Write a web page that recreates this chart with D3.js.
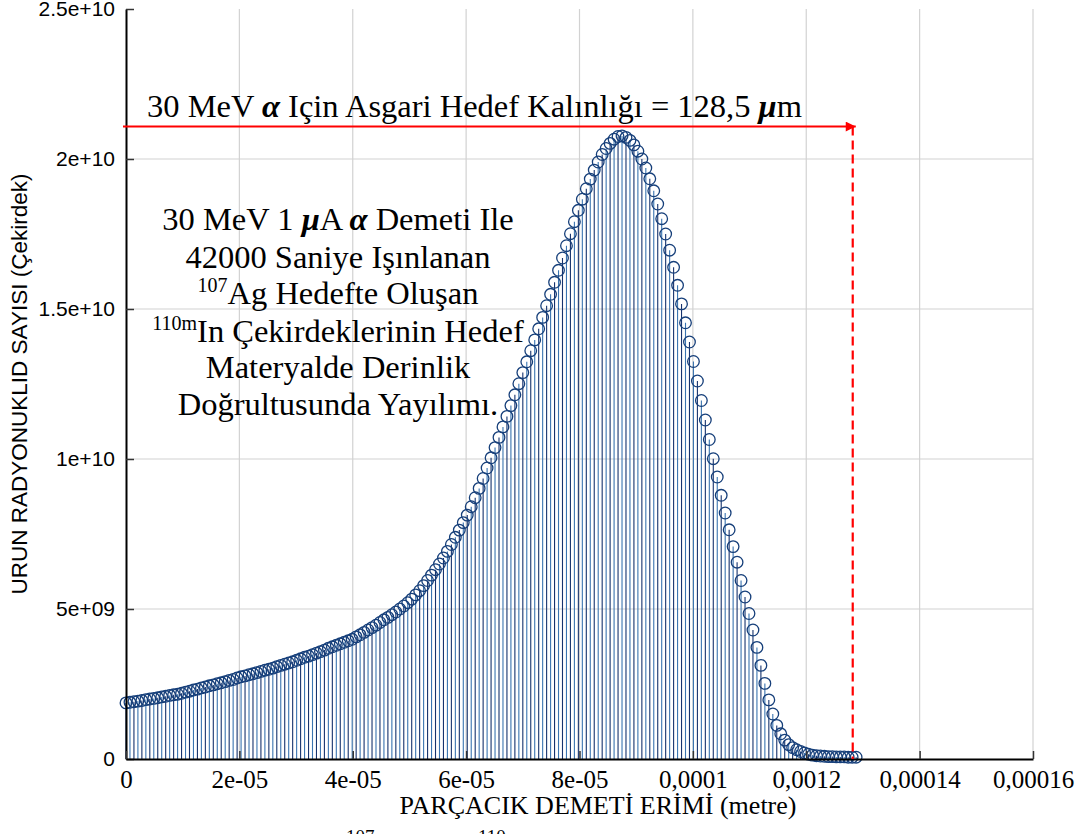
<!DOCTYPE html>
<html>
<head>
<meta charset="utf-8">
<script src="https://cdn.jsdelivr.net/npm/d3@7"></script>
<style>
  body { margin: 0; background: #fff; overflow: hidden; }
  text { fill: #000; }
</style>
</head>
<body>
<svg id="chart" width="1079" height="834"></svg>
<script>
// depth step between samples (metre)
var depthStep = 0.7e-6;
// nuclide count per sample, in units of 1e9
var counts = [
  1.87, 1.89, 1.91, 1.93, 1.95, 1.98, 2.00, 2.02, 2.04, 2.07,
  2.09, 2.12, 2.14, 2.16, 2.19, 2.23, 2.26, 2.30, 2.33, 2.37,
  2.40, 2.44, 2.47, 2.51, 2.54, 2.58, 2.62, 2.65, 2.70, 2.74,
  2.77, 2.81, 2.84, 2.88, 2.92, 2.96, 2.99, 3.03, 3.08, 3.12,
  3.16, 3.20, 3.24, 3.29, 3.34, 3.39, 3.43, 3.48, 3.53, 3.58,
  3.63, 3.69, 3.74, 3.79, 3.84, 3.89, 3.94, 3.99, 4.07, 4.14,
  4.22, 4.30, 4.38, 4.46, 4.55, 4.64, 4.72, 4.81, 4.90, 5.00,
  5.10, 5.21, 5.33, 5.47, 5.61, 5.78, 5.95, 6.13, 6.31, 6.50,
  6.70, 6.92, 7.15, 7.39, 7.63, 7.88, 8.13, 8.41, 8.71, 9.02,
  9.35, 9.70, 10.04, 10.38, 10.72, 11.07, 11.42, 11.78, 12.14, 12.51,
  12.88, 13.24, 13.61, 13.97, 14.34, 14.72, 15.11, 15.49, 15.89, 16.29,
  16.70, 17.11, 17.51, 17.91, 18.29, 18.66, 19.01, 19.33, 19.63, 19.90,
  20.15, 20.35, 20.52, 20.66, 20.75, 20.77, 20.72, 20.62, 20.47, 20.26,
  20.00, 19.70, 19.34, 18.94, 18.50, 18.01, 17.50, 16.96, 16.39, 15.79,
  15.17, 14.54, 13.90, 13.25, 12.60, 11.95, 11.30, 10.65, 10.01, 9.40,
  8.79, 8.20, 7.64, 7.08, 6.56, 5.95, 5.40, 4.85, 4.30, 3.72,
  3.12, 2.52, 1.97, 1.50, 1.12, 0.84, 0.63, 0.48, 0.38, 0.31,
  0.25, 0.20, 0.16, 0.13, 0.11, 0.10, 0.09, 0.08, 0.08, 0.07,
  0.07, 0.07, 0.06, 0.06, 0.06
];

var xTicks = [0, 2e-5, 4e-5, 6e-5, 8e-5, 1e-4, 1.2e-4, 1.4e-4, 1.6e-4];
var xTickLabels = ["0", "2e-05", "4e-05", "6e-05", "8e-05", "0,0001", "0,0012", "0,00014", "0,00016"];
var yTicks = [0, 5e9, 1e10, 1.5e10, 2e10, 2.5e10];
var yTickLabels = ["0", "5e+09", "1e+10", "1.5e+10", "2e+10", "2.5e+10"];

var minThickness = 128.2e-6;   // red dashed line
var arrowLevel = 2.108e10;      // red arrow height

var xTitle = "PARÇACIK DEMETİ ERİMİ (metre)";
var yTitle = "URUN RADYONUKLID SAYISI (Çekirdek)";

var points = counts.map(function (c, i) {
  return { x: i * depthStep, y: c * 1e9 };
});

var svg = d3.select("#chart");
var plotLeft = 126, plotRight = 1033, plotTop = 9, plotBottom = 759;

var x = d3.scaleLinear().domain([0, 1.6e-4]).range([plotLeft, plotRight]);
var y = d3.scaleLinear().domain([0, 2.5e10]).range([plotBottom, plotTop]);

// grid
svg.append("g").selectAll("line")
  .data(xTicks.slice(1))
  .enter().append("line")
  .attr("x1", function (d) { return x(d); })
  .attr("x2", function (d) { return x(d); })
  .attr("y1", y(0)).attr("y2", y(2.5e10))
  .attr("stroke", "#d2d2d2").attr("stroke-width", 1.2);

svg.append("g").selectAll("line")
  .data(yTicks.slice(1, -1))
  .enter().append("line")
  .attr("x1", plotLeft).attr("x2", plotRight)
  .attr("y1", function (d) { return y(d); })
  .attr("y2", function (d) { return y(d); })
  .attr("stroke", "#d2d2d2").attr("stroke-width", 1.2);

// stems
svg.append("g").selectAll("line")
  .data(points)
  .enter().append("line")
  .attr("x1", function (d) { return x(d.x); })
  .attr("x2", function (d) { return x(d.x); })
  .attr("y1", y(0))
  .attr("y2", function (d) { return y(d.y); })
  .attr("stroke", function (d, i) { return i % 2 ? "#3a74b0" : "#16336e"; })
  .attr("stroke-width", 1.1);

// markers
svg.append("g").selectAll("circle")
  .data(points)
  .enter().append("circle")
  .attr("cx", function (d) { return x(d.x); })
  .attr("cy", function (d) { return y(d.y); })
  .attr("r", 5.8)
  .attr("fill", "none")
  .attr("stroke", "#163f7a")
  .attr("stroke-width", 1.3);

// axes
var yAxis = d3.axisLeft(y)
  .tickValues(yTicks)
  .tickFormat(function (d, i) { return yTickLabels[i]; })
  .tickSizeInner(-8).tickSizeOuter(0).tickPadding(11);

var xAxis = d3.axisBottom(x)
  .tickValues(xTicks)
  .tickFormat(function (d, i) { return xTickLabels[i]; })
  .tickSizeInner(-8).tickSizeOuter(0).tickPadding(11);

var gy = svg.append("g").attr("transform", "translate(" + plotLeft + ",0)").call(yAxis);
gy.select(".domain").attr("stroke", "#000").attr("stroke-width", 2);
gy.selectAll(".tick line").attr("stroke", "#333").attr("stroke-width", 1.5);
gy.selectAll(".tick text")
  .style("font-family", "'Liberation Sans', Arial, sans-serif")
  .style("font-size", "21px").attr("fill", "#000");

var gx = svg.append("g").attr("transform", "translate(0," + plotBottom + ")").call(xAxis);
gx.select(".domain").attr("stroke", "#000").attr("stroke-width", 2);
gx.selectAll(".tick line").attr("stroke", "#333").attr("stroke-width", 1.5);
gx.selectAll(".tick text")
  .style("font-family", "'Liberation Serif', 'Times New Roman', serif")
  .style("font-size", "25px").attr("fill", "#000");

// axis titles
svg.append("text")
  .attr("x", 598).attr("y", 814)
  .attr("text-anchor", "middle")
  .style("font-family", "'Liberation Serif', 'Times New Roman', serif")
  .style("font-size", "26px")
  .text(xTitle);

svg.append("text")
  .attr("transform", "translate(27," + ((plotTop + plotBottom) / 2) + ") rotate(-90)")
  .attr("text-anchor", "middle")
  .style("font-family", "'Liberation Sans', Arial, sans-serif")
  .style("font-size", "22.5px")
  .text(yTitle);

// red arrow and dashed line
svg.append("defs").append("marker")
  .attr("id", "arrowhead")
  .attr("viewBox", "0 0 10 10")
  .attr("refX", 10).attr("refY", 5)
  .attr("markerWidth", 6).attr("markerHeight", 5)
  .attr("markerUnits", "strokeWidth")
  .attr("orient", "auto")
  .append("path").attr("d", "M0,0 L10,5 L0,10 z").attr("fill", "#ff0000");

svg.append("line")
  .attr("x1", x(minThickness)).attr("x2", x(minThickness))
  .attr("y1", y(arrowLevel)).attr("y2", y(0))
  .attr("stroke", "#ff0000").attr("stroke-width", 2.2)
  .attr("stroke-dasharray", "9,5");

svg.append("line")
  .attr("x1", plotLeft - 3).attr("x2", x(minThickness) + 3)
  .attr("y1", y(arrowLevel)).attr("y2", y(arrowLevel))
  .attr("stroke", "#ff0000").attr("stroke-width", 2)
  .attr("marker-end", "url(#arrowhead)");

// annotation texts
var serif = "'Liberation Serif', 'Times New Roman', serif";

function addRich(parent, parts) {
  parts.forEach(function (p) {
    var t = parent.append("tspan").text(p.t);
    if (p.greek) t.style("font-weight", "bold").style("font-style", "italic");
    if (p.sup) t.style("font-size", "20px").attr("dy", -12);
    if (p.after) t.attr("dy", 12);
  });
}

var title = svg.append("text")
  .attr("x", 147).attr("y", 117)
  .style("font-family", serif).style("font-size", "32.5px");
addRich(title, [
  { t: "30 MeV " }, { t: "α", greek: true }, { t: " Için Asgari Hedef Kalınlığı = 128,5 " },
  { t: "μ", greek: true }, { t: "m" }
]);

var blockLines = [
  [{ t: "30 MeV 1 " }, { t: "μ", greek: true }, { t: "A " }, { t: "α", greek: true }, { t: " Demeti Ile" }],
  [{ t: "42000 Saniye Işınlanan" }],
  [{ t: "107", sup: true }, { t: "Ag Hedefte Oluşan", after: true }],
  [{ t: "110m", sup: true }, { t: "In Çekirdeklerinin Hedef", after: true }],
  [{ t: "Materyalde Derinlik" }],
  [{ t: "Doğrultusunda Yayılımı." }]
];
var blockBase = [230, 268, 304, 342, 378, 415];

blockLines.forEach(function (parts, i) {
  var t = svg.append("text")
    .attr("x", 338).attr("y", blockBase[i])
    .attr("text-anchor", "middle")
    .style("font-family", serif).style("font-size", "32.5px");
  addRich(t, parts);
});

// caption fragment cut at the bottom of the page
var cap = svg.append("text").attr("y", 843)
  .style("font-family", serif).style("font-size", "19px");
cap.append("tspan").attr("x", 346).text("107");
cap.append("tspan").attr("x", 478).text("110");
</script>
</body>
</html>
